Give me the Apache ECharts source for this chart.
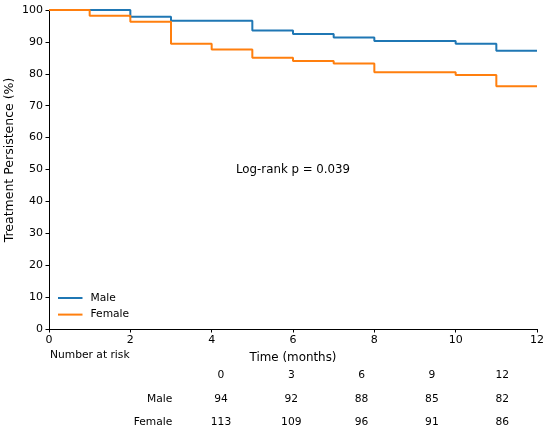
<!DOCTYPE html>
<html>
<head>
<meta charset="utf-8">
<script src="https://cdn.jsdelivr.net/npm/echarts@6/dist/echarts.min.js"></script>
<style>
  html, body { margin: 0; padding: 0; background: #fff; }
  #chart { width: 550px; height: 434px; }
</style>
</head>
<body>
<div id="chart"></div>
<script>
// Kaplan-Meier steps (time in months, persistence %)
var maleTimes = [0, 2, 3, 5, 6, 7, 8, 10, 11, 12]
var maleSurv = [100, 97.9, 96.6, 93.6, 92.5, 91.4, 90.3, 89.4, 87.2, 87.2]
var femaleTimes = [0, 1, 2, 3, 4, 5, 6, 7, 8, 10, 11, 12]
var femaleSurv = [100, 98.2, 96.3, 89.4, 87.6, 85.0, 84.0, 83.2, 80.5, 79.6, 76.1, 76.1]

// number at risk table
var riskTimes = [0, 3, 6, 9, 12]
var riskGroups = ['Male', 'Female']
var maleRisk = [94, 92, 88, 85, 82]
var femaleRisk = [113, 109, 96, 91, 86]

var pValueText = 'Log-rank p = 0.039'

var font = 'DejaVu Sans'
var blue = '#1f77b4'
var orange = '#ff7f0e'
var tableFont = '10.7px "DejaVu Sans"'

var zip = function(xs, ys) {
    return xs.map(function(x, i) { return [x, ys[i]] })
}

var chart = echarts.init(document.getElementById('chart'))

// risk table as plain text elements
var graphics = []
var colX = function(i) { return 221 + i * 70.3 }
var rowY = [375, 399.3, 422.7]
graphics.push({
    type: 'text', x: 50, y: 355,
    style: { text: 'Number at risk', font: tableFont, fill: '#000', verticalAlign: 'middle' }
})
riskTimes.forEach(function(t, i) {
    graphics.push({
        type: 'text', x: colX(i), y: rowY[0],
        style: { text: String(t), font: tableFont, fill: '#000', align: 'center', verticalAlign: 'middle' }
    })
})
;[maleRisk, femaleRisk].forEach(function(row, r) {
    graphics.push({
        type: 'text', x: 172.3, y: rowY[r + 1],
        style: { text: riskGroups[r], font: tableFont, fill: '#000', align: 'right', verticalAlign: 'middle' }
    })
    row.forEach(function(v, i) {
        graphics.push({
            type: 'text', x: colX(i), y: rowY[r + 1],
            style: { text: String(v), font: tableFont, fill: '#000', align: 'center', verticalAlign: 'middle' }
        })
    })
})
graphics.push({
    type: 'text', x: 236, y: 170,
    style: { text: pValueText, font: '11.8px "DejaVu Sans"', fill: '#000', align: 'left', verticalAlign: 'middle' }
})

var axisCommon = {
    axisLine: { show: true, lineStyle: { color: '#000', width: 1 } },
    axisTick: { show: true, length: 3.5, lineStyle: { color: '#000', width: 1 } },
    axisLabel: { color: '#000', fontFamily: font, fontSize: 11, margin: 6 },
    splitLine: { show: false },
    nameMoveOverlap: false
}

chart.setOption({
    animation: false,
    backgroundColor: '#fff',
    textStyle: { fontFamily: font },
    grid: { left: 49, right: 13, top: 10, bottom: 105, containLabel: false, outerBoundsMode: 'none' },
    xAxis: Object.assign({}, axisCommon, {
        type: 'value', min: 0, max: 12, interval: 2,
        name: 'Time (months)', nameLocation: 'middle', nameGap: 22.5,
        nameTextStyle: { color: '#000', fontFamily: font, fontSize: 11.9 }
    }),
    yAxis: Object.assign({}, axisCommon, {
        type: 'value', min: 0, max: 100, interval: 10,
        name: 'Treatment Persistence (%)', nameLocation: 'middle', nameGap: 33,
        nameTextStyle: { color: '#000', fontFamily: font, fontSize: 12.5, padding: [0, 0, 0, 19] }
    }),
    legend: {
        orient: 'vertical', left: 58, top: 291, padding: 0,
        itemWidth: 24.5, itemHeight: 2, itemGap: 2.6,
        icon: 'rect',
        textStyle: { color: '#000', fontFamily: font, fontSize: 10.7, lineHeight: 14, padding: [0, 0, 0, 3] },
        data: ['Male', 'Female']
    },
    series: [
        {
            name: 'Male', type: 'line', step: 'end', showSymbol: false,
            color: blue, lineStyle: { color: blue, width: 2 },
            data: zip(maleTimes, maleSurv)
        },
        {
            name: 'Female', type: 'line', step: 'end', showSymbol: false,
            color: orange, lineStyle: { color: orange, width: 2 },
            data: zip(femaleTimes, femaleSurv)
        }
    ],
    graphic: graphics
})
</script>
</body>
</html>
